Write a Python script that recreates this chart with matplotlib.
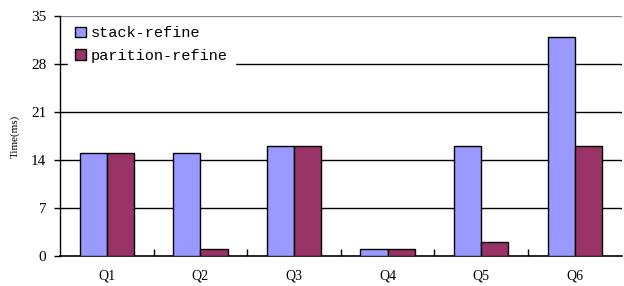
import matplotlib.pyplot as plt
import numpy as np

queries = ['Q1', 'Q2', 'Q3', 'Q4', 'Q5', 'Q6']
stack_refine = [15, 15, 16, 1, 16, 32]
parition_refine = [15, 1, 16, 1, 2, 16]
yticks = [0, 7, 14, 21, 28, 35]

fig = plt.figure(figsize=(6.24, 2.86), dpi=100)
ax = fig.add_axes([0.0962, 0.105, 0.90, 0.839])

x = np.arange(len(queries))
w = 0.29
ax.bar(x - w / 2, stack_refine, w, color='#9999FF', edgecolor='black', linewidth=1, label='stack-refine', zorder=3)
ax.bar(x + w / 2, parition_refine, w, color='#993366', edgecolor='black', linewidth=1, label='parition-refine', zorder=3)

ax.set_xlim(-0.5, len(queries) - 0.5)
ax.set_ylim(0, 35)
ax.set_yticks(yticks)
ax.set_yticklabels([str(t) for t in yticks], family='Liberation Serif', fontsize=11)
for t in yticks[1:]:
    ax.axhline(t, color='black' if t < 35 else '#888888', linewidth=1, zorder=1)

ax.set_xticks(x)
ax.set_xticklabels(queries, family='Liberation Serif', fontsize=10)
ax.tick_params(axis='x', length=0, pad=10)
ax.set_xticks(np.arange(len(queries) - 1) + 0.5, minor=True)
ax.tick_params(axis='x', which='minor', direction='in', length=5, width=1)
ax.tick_params(axis='y', direction='out', length=4, width=1, pad=6)

ax.spines['top'].set_visible(False)
ax.spines['right'].set_visible(False)
ax.spines['left'].set_linewidth(1)
ax.spines['bottom'].set_linewidth(1.2)

ax.set_ylabel('Time(ms)', family='Liberation Serif', fontsize=8, labelpad=8)

leg = ax.legend(loc='upper left', bbox_to_anchor=(0.0, 1.02), frameon=True, fancybox=False,
                edgecolor='white', facecolor='white', framealpha=1,
                handlelength=0.7, handleheight=0.7, handletextpad=0.3,
                labelspacing=0.55, prop={'family': 'Liberation Mono', 'size': 11},
                borderpad=0.5)
leg.set_zorder(5)
for h in leg.legend_handles:
    h.set_linewidth(1)

fig.savefig('out.png', dpi=100)
